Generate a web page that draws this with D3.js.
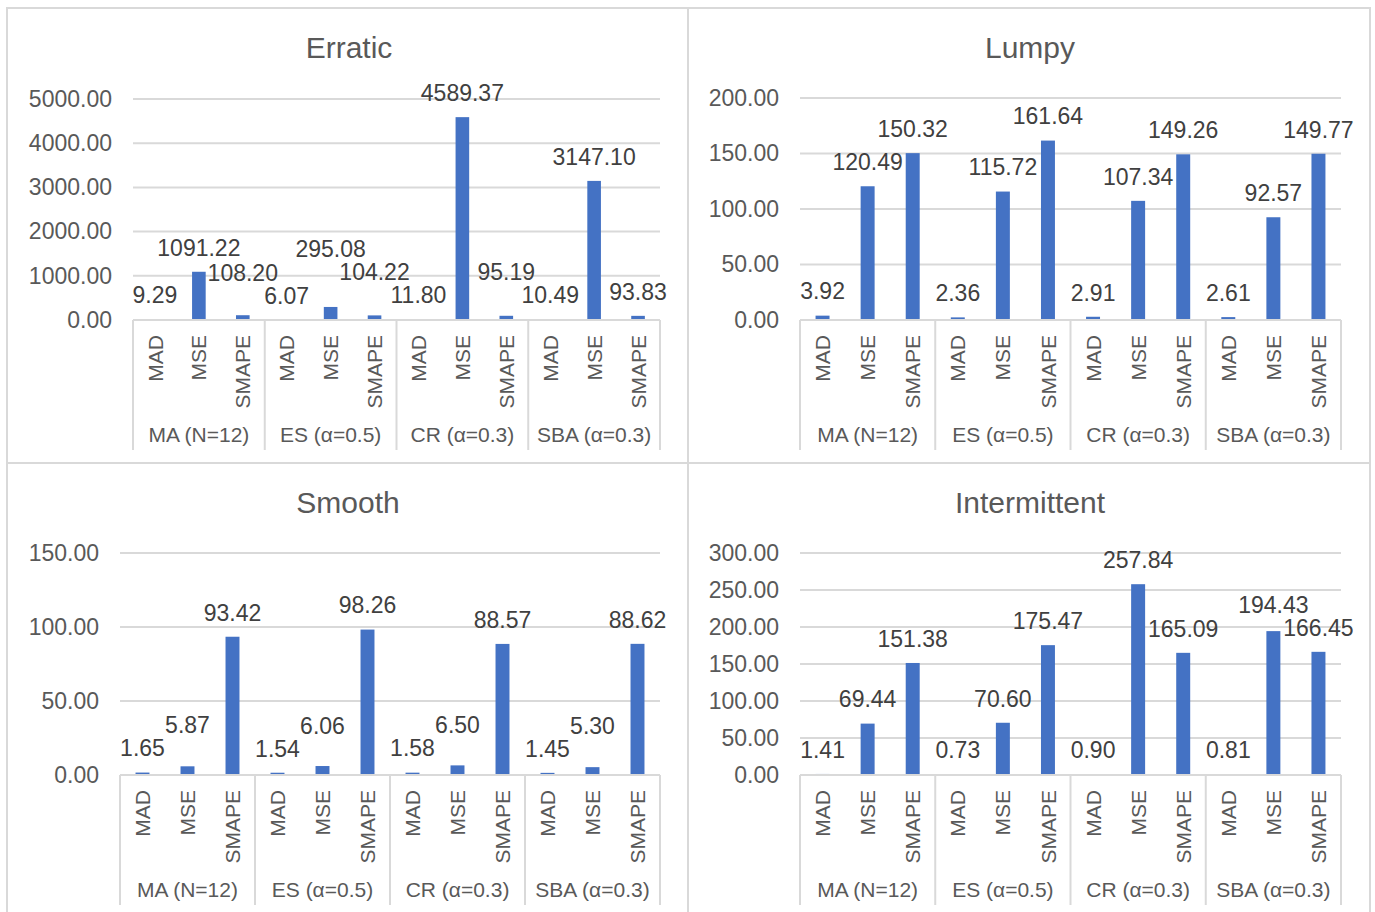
<!DOCTYPE html>
<html>
<head>
<meta charset="utf-8">
<script src="https://cdn.jsdelivr.net/npm/d3@7"></script>
<style>
  html, body { margin: 0; padding: 0; background: #ffffff; }
  svg { display: block; }
  text { font-family: "Liberation Sans", Arial, sans-serif; }
</style>
</head>
<body>
<svg id="chart" width="1375" height="912"></svg>
<script>
// ---------------- data ----------------
const methods = ["MA (N=12)", "ES (α=0.5)", "CR (α=0.3)", "SBA (α=0.3)"];
const metrics = ["MAD", "MSE", "SMAPE"];

const erraticValues      = [9.29, 1091.22, 108.20, 6.07, 295.08, 104.22, 11.80, 4589.37, 95.19, 10.49, 3147.10, 93.83];
const lumpyValues        = [3.92, 120.49, 150.32, 2.36, 115.72, 161.64, 2.91, 107.34, 149.26, 2.61, 92.57, 149.77];
const smoothValues       = [1.65, 5.87, 93.42, 1.54, 6.06, 98.26, 1.58, 6.50, 88.57, 1.45, 5.30, 88.62];
const intermittentValues = [1.41, 69.44, 151.38, 0.73, 70.60, 175.47, 0.90, 257.84, 165.09, 0.81, 194.43, 166.45];

const erraticTicks      = [0, 1000, 2000, 3000, 4000, 5000];
const lumpyTicks        = [0, 50, 100, 150, 200];
const smoothTicks       = [0, 50, 100, 150];
const intermittentTicks = [0, 50, 100, 150, 200, 250, 300];

// ---------------- layout ----------------
const panels = [
  { title: "Erratic",      values: erraticValues,      ticks: erraticTicks,
    box: [7, 8, 681, 455],   plot: { x0: 133, x1: 660, yTop: 99,  yBase: 320 }, titleX: 349,  titleY: 58 },
  { title: "Lumpy",        values: lumpyValues,        ticks: lumpyTicks,
    box: [688, 8, 682, 455], plot: { x0: 800, x1: 1341, yTop: 98, yBase: 320 }, titleX: 1030, titleY: 58 },
  { title: "Smooth",       values: smoothValues,       ticks: smoothTicks,
    box: [7, 463, 681, 460], plot: { x0: 120, x1: 660, yTop: 553, yBase: 775 }, titleX: 348,  titleY: 513 },
  { title: "Intermittent", values: intermittentValues, ticks: intermittentTicks,
    box: [688, 463, 682, 460], plot: { x0: 800, x1: 1341, yTop: 553, yBase: 775 }, titleX: 1030, titleY: 513 }
];

const BAR = "#4472C4", GRID = "#d9d9d9", AXIS_TXT = "#595959", LABEL_TXT = "#404040";
const svg = d3.select("#chart");
const fmt = d3.format(".2f");

panels.forEach(p => {
  const g = svg.append("g");
  const P = p.plot;

  // panel border
  g.append("rect")
    .attr("x", p.box[0]).attr("y", p.box[1])
    .attr("width", p.box[2]).attr("height", p.box[3])
    .attr("fill", "#fff").attr("stroke", GRID).attr("stroke-width", 2);

  // title
  g.append("text")
    .attr("x", p.titleX).attr("y", p.titleY)
    .attr("text-anchor", "middle")
    .attr("font-size", 30).attr("fill", AXIS_TXT)
    .text(p.title);

  // category keys
  const keys = [];
  methods.forEach(m => metrics.forEach(k => keys.push(m + "|" + k)));
  const x = d3.scaleBand().domain(keys).range([P.x0, P.x1])
    .paddingInner(0.69).paddingOuter(0.345);
  const y = d3.scaleLinear().domain([0, d3.max(p.ticks)]).range([P.yBase, P.yTop]);

  // gridlines
  g.selectAll(".grid").data(p.ticks).join("line")
    .attr("x1", P.x0).attr("x2", P.x1)
    .attr("y1", d => y(d)).attr("y2", d => y(d))
    .attr("stroke", GRID).attr("stroke-width", 2);

  // y axis tick labels
  const yAxis = d3.axisLeft(y).tickValues(p.ticks).tickFormat(fmt).tickSize(0).tickPadding(21);
  const ya = g.append("g").attr("transform", `translate(${P.x0},0)`).call(yAxis);
  ya.select(".domain").remove();
  ya.selectAll("text").attr("font-size", 23).attr("fill", AXIS_TXT)
    .attr("font-family", "'Liberation Sans', Arial, sans-serif");

  // bars
  const data = p.values.map((v, i) => ({ key: keys[i], v }));
  g.selectAll(".bar").data(data).join("rect")
    .attr("x", d => x(d.key)).attr("width", x.bandwidth())
    .attr("y", d => y(d.v)).attr("height", d => y(0) - y(d.v))
    .attr("fill", BAR);

  // x axis line
  g.append("line").attr("x1", P.x0).attr("x2", P.x1)
    .attr("y1", P.yBase).attr("y2", P.yBase)
    .attr("stroke", GRID).attr("stroke-width", 2);

  // group dividers
  const step = x.step();
  const bounds = d3.range(methods.length + 1).map(i => P.x0 + i * step * metrics.length);
  g.selectAll(".div").data(bounds).join("line")
    .attr("x1", d => d).attr("x2", d => d)
    .attr("y1", P.yBase).attr("y2", P.yBase + 130)
    .attr("stroke", GRID).attr("stroke-width", 2);

  // metric labels (rotated)
  g.selectAll(".cat").data(keys).join("text")
    .attr("transform", d => `translate(${x(d) + x.bandwidth() / 2},${P.yBase + 15}) rotate(-90)`)
    .attr("text-anchor", "end").attr("dy", "0.36em")
    .attr("font-size", 21).attr("fill", AXIS_TXT)
    .text(d => d.split("|")[1]);

  // method labels
  g.selectAll(".grp").data(methods).join("text")
    .attr("x", (d, i) => (bounds[i] + bounds[i + 1]) / 2)
    .attr("y", P.yBase + 122)
    .attr("text-anchor", "middle")
    .attr("font-size", 21).attr("fill", AXIS_TXT)
    .text(d => d);

  // data labels with overlap avoidance
  const labels = g.selectAll(".lbl").data(data).join("text")
    .attr("text-anchor", "middle")
    .attr("font-size", 23).attr("fill", LABEL_TXT)
    .text(d => fmt(d.v));
  const H = 23, PAD = 2;
  const boxes = [];
  labels.each(function (d) {
    const w = this.getComputedTextLength();
    const cx = x(d.key) + x.bandwidth() / 2;
    boxes.push({ d, node: this, x0: cx - w / 2 - PAD, x1: cx + w / 2 + PAD, cx, cy: y(d.v) - 24.5 });
  });
  const placed = [];
  boxes.slice().sort((a, b) => a.d.v - b.d.v).forEach(b => {
    let moved = true;
    while (moved) {
      moved = false;
      for (const o of placed) {
        if (b.x1 > o.x0 && b.x0 < o.x1 && Math.abs(b.cy - o.cy) < H) {
          b.cy = o.cy - H; moved = true;
        }
      }
    }
    placed.push(b);
  });
  boxes.forEach(b => d3.select(b.node).attr("x", b.cx).attr("y", b.cy + 8.3));
});
</script>
</body>
</html>
